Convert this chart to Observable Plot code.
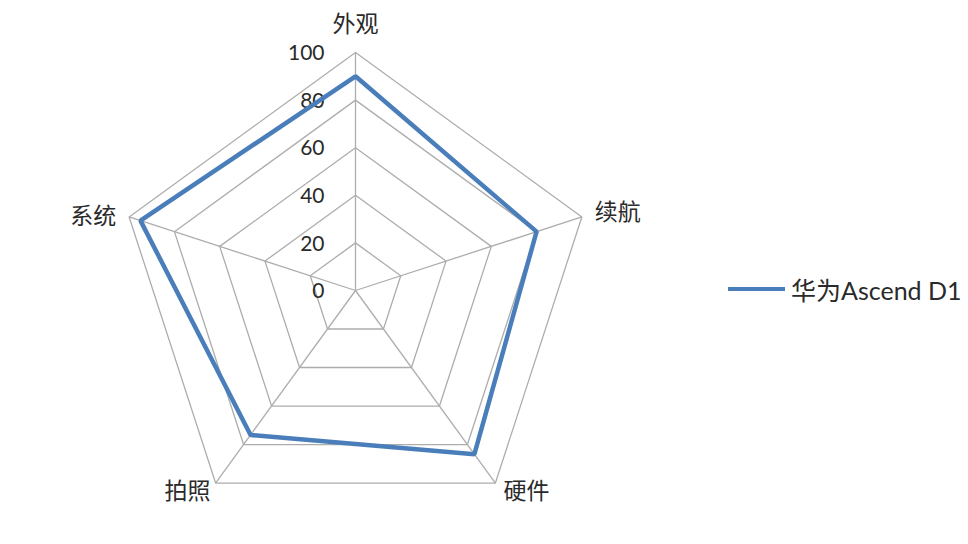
<!DOCTYPE html>
<html>
<head>
<meta charset="utf-8">
<script src="https://cdn.jsdelivr.net/npm/d3@7"></script>
<script src="https://cdn.jsdelivr.net/npm/@observablehq/plot@0.6"></script>
<style>
  html, body { margin: 0; padding: 0; background: #fff; }
  #wrap { display: flex; align-items: flex-start; width: 968px; height: 544px; overflow: hidden; }
  #legend { position: absolute; left: 728px; top: 289px; transform: translateY(-50%); display: flex; align-items: center;
    font-family: Lato, "Noto Sans CJK SC", sans-serif; font-size: 25px; color: #2a2a2a; white-space: nowrap; }
  #legend .sw { width: 57px; height: 0; border-top: 4px solid #4A7EBB; margin-right: 6px; }
</style>
</head>
<body>
<div id="wrap"><div id="chart"></div></div>
<div id="legend"></div>
<script>
const categories = ["外观", "续航", "硬件", "拍照", "系统"];
const values = [90, 80, 85, 75, 95];
const tickValues = [0, 20, 40, 60, 80, 100];
const seriesName = "华为Ascend D1";

const N = categories.length;
const ang = i => (i * 2 * Math.PI) / N;
const px = (i, r) => r * Math.sin(ang(i));
const py = (i, r) => r * Math.cos(ang(i));

const series = categories.map((c, i) => ({cat: c, i, v: values[i]}));
const rings = tickValues.filter(t => t > 0).flatMap(t => categories.map((c, i) => ({t, i})));
const spokes = categories.map((c, i) => ({i}));
const tickRows = tickValues.map(t => ({t}));

// label placement per category
const labelCfg = [
  {anchor: "middle", dx: 0, dy: -28},
  {anchor: "start", dx: 13, dy: -4},
  {anchor: "start", dx: 8, dy: 9},
  {anchor: "end", dx: -5, dy: 9},
  {anchor: "end", dx: -13, dy: 0}
];

const k = 2.38; // px per unit
const W = 720, H = 544, cx = 355, cy = 290;
const font = 'Lato, "Noto Sans CJK SC", sans-serif';

const chart = Plot.plot({
  width: W,
  height: H,
  margin: 0,
  x: {domain: [-cx / k, (W - cx) / k], axis: null},
  y: {domain: [-(H - cy) / k, cy / k], axis: null},
  style: {fontFamily: font, background: "#fff"},
  marks: [
    Plot.line(rings, {x: d => px(d.i, d.t), y: d => py(d.i, d.t), z: "t", curve: "linear-closed", stroke: "#adadad", strokeWidth: 1.3}),
    Plot.link(spokes, {x1: 0, y1: 0, x2: d => px(d.i, 100), y2: d => py(d.i, 100), stroke: "#adadad", strokeWidth: 1.3}),
    Plot.text(tickRows, {x: 0, y: "t", text: d => String(d.t), textAnchor: "end", dx: -31, dy: 1, fontSize: 21, fill: "#2a2a2a"}),
    ...labelCfg.map((cfg, i) => Plot.text([series[i]], {
      x: d => px(d.i, 100), y: d => py(d.i, 100), text: "cat",
      textAnchor: cfg.anchor, dx: cfg.dx, dy: cfg.dy, fontSize: 23, fill: "#2a2a2a"
    })),
    Plot.line(series, {x: d => px(d.i, d.v), y: d => py(d.i, d.v), curve: "linear-closed", stroke: "#4A7EBB", strokeWidth: 4.5, strokeLinejoin: "miter"})
  ]
});
document.getElementById("chart").appendChild(chart);

const lg = document.getElementById("legend");
lg.innerHTML = '<span class="sw"></span><span></span>';
lg.lastChild.textContent = seriesName;
</script>
</body>
</html>
